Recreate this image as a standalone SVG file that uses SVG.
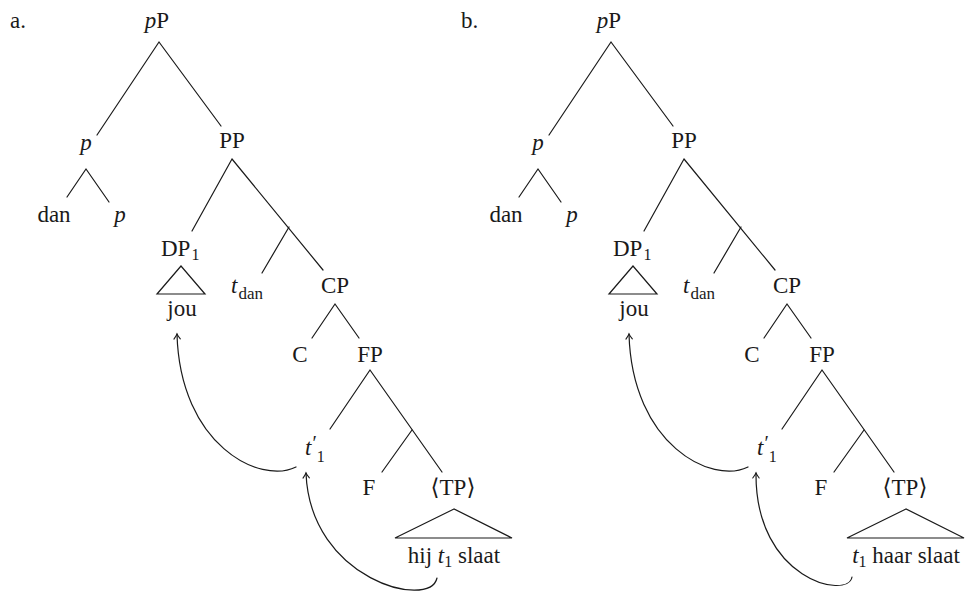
<svg xmlns="http://www.w3.org/2000/svg" width="968" height="596" viewBox="0 0 968 596">
<style>
text{font-family:"Liberation Serif","DejaVu Serif",serif;font-size:23px;fill:#1a1a1a}
.m{text-anchor:middle}
.i{font-style:italic}
.s{font-size:16px}
.e{stroke:#1a1a1a;stroke-width:1.2;fill:none;stroke-linecap:round;stroke-linejoin:miter}
</style>
<defs>
<marker id="ah" markerUnits="userSpaceOnUse" markerWidth="12" markerHeight="12" viewBox="-6 -6 12 12" refX="0" refY="0" orient="auto">
<path d="M-5,-3.2 Q-1.5,-0.6 0,0 Q-1.5,0.6 -5,3.2" fill="none" stroke="#1a1a1a" stroke-width="1.1" stroke-linecap="round"/>
</marker>
</defs>
<rect width="968" height="596" fill="#fff"/>

<g id="labels">
<text x="10" y="28">a.</text>
<text x="461" y="28">b.</text>
</g>

<!-- Tree a -->
<g id="tree-a">
<g id="a-pP"><text class="m" x="157" y="28"><tspan class="i">p</tspan>P</text></g>
<g id="a-p"><text class="m i" x="86" y="150">p</text></g>
<g id="a-PP"><text class="m" x="232" y="148">PP</text></g>
<g id="a-dan"><text class="m" x="54" y="222">dan</text></g>
<g id="a-p2"><text class="m i" x="120" y="222">p</text></g>
<g id="a-DP1"><text x="161" y="256">DP<tspan class="s" dx="1" dy="4">1</tspan></text></g>
<g id="a-jou"><polygon class="e" points="181,266 157,294 205,294"/><text class="m" x="182" y="316">jou</text></g>
<g id="a-tdan"><text class="i" x="231" y="293">t<tspan style="font-size:17px;font-style:normal" dx="1" dy="6">dan</tspan></text></g>
<g id="a-CP"><text class="m" x="335" y="293">CP</text></g>
<g id="a-C"><text class="m" x="300" y="362">C</text></g>
<g id="a-FP"><text class="m" x="370" y="362">FP</text></g>
<g id="a-t1p"><text x="305" y="455"><tspan class="i">t</tspan><tspan style="font-size:20px" dx="1" dy="-5">′</tspan><tspan class="s" dx="0" dy="12">1</tspan></text></g>
<g id="a-F"><text class="m" x="369" y="495">F</text></g>
<g id="a-TP"><text class="m" x="453" y="495">⟨TP⟩</text></g>
<g id="a-TPc"><polygon class="e" points="454,509 395,538 512,538"/><text class="m" x="454" y="563">hij <tspan class="i">t</tspan><tspan class="s" dy="4">1</tspan><tspan dy="-4"> slaat</tspan></text></g>
</g>

<!-- Tree b -->
<g id="tree-b">
<g id="b-pP"><text class="m" x="609" y="28"><tspan class="i">p</tspan>P</text></g>
<g id="b-p"><text class="m i" x="538" y="150">p</text></g>
<g id="b-PP"><text class="m" x="684" y="148">PP</text></g>
<g id="b-dan"><text class="m" x="506" y="222">dan</text></g>
<g id="b-p2"><text class="m i" x="572" y="222">p</text></g>
<g id="b-DP1"><text x="613" y="256">DP<tspan class="s" dx="1" dy="4">1</tspan></text></g>
<g id="b-jou"><polygon class="e" points="633,266 609,294 657,294"/><text class="m" x="634" y="316">jou</text></g>
<g id="b-tdan"><text class="i" x="683" y="293">t<tspan style="font-size:17px;font-style:normal" dx="1" dy="6">dan</tspan></text></g>
<g id="b-CP"><text class="m" x="787" y="293">CP</text></g>
<g id="b-C"><text class="m" x="752" y="362">C</text></g>
<g id="b-FP"><text class="m" x="822" y="362">FP</text></g>
<g id="b-t1p"><text x="757" y="455"><tspan class="i">t</tspan><tspan style="font-size:20px" dx="1" dy="-5">′</tspan><tspan class="s" dx="0" dy="12">1</tspan></text></g>
<g id="b-F"><text class="m" x="821" y="495">F</text></g>
<g id="b-TP"><text class="m" x="905" y="495">⟨TP⟩</text></g>
<g id="b-TPc"><polygon class="e" points="906,509 847,538 964,538"/><text class="m" x="906" y="563"><tspan class="i">t</tspan><tspan class="s" dy="4">1</tspan><tspan dy="-4"> haar slaat</tspan></text></g>
</g>

<g id="connectors">
<g id="edges-a" class="e">
<path d="M159,42 L97,135 M159,42 L221,126"/>
<path d="M86,169 L67,197 M86,169 L109,202"/>
<path d="M232,159 L192,231 M232,159 L323,270"/>
<path d="M289,227 L262,273"/>
<path d="M335,304 L312,338 M335,304 L359,338"/>
<path d="M370,370 L330,429 M370,370 L442,472"/>
<path d="M412,430 L382,472"/>
</g>
<g id="edges-b" class="e" transform="translate(452,0)">
<path d="M159,42 L97,135 M159,42 L221,126"/>
<path d="M86,169 L67,197 M86,169 L109,202"/>
<path d="M232,159 L192,231 M232,159 L323,270"/>
<path d="M289,227 L262,273"/>
<path d="M335,304 L312,338 M335,304 L359,338"/>
<path d="M370,370 L330,429 M370,370 L442,472"/>
<path d="M412,430 L382,472"/>
</g>
<g id="movement" class="e">
<path d="M296,467 C260,485 180,445 177,334" marker-end="url(#ah)"/>
<path d="M437,578 C430,610 310,580 306,473" marker-end="url(#ah)"/>
<path d="M748,467 C712,485 632,445 629,334" marker-end="url(#ah)"/>
<path d="M852,577 C848,600 755,580 756,473" marker-end="url(#ah)"/>
</g>
</g>
</svg>
